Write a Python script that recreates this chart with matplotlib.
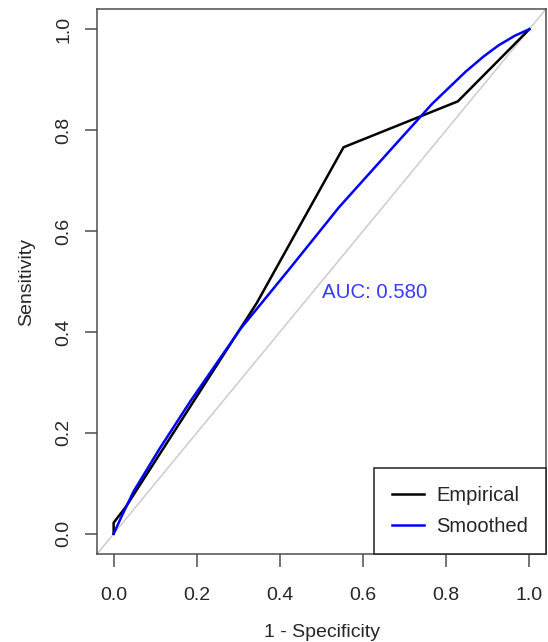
import matplotlib
matplotlib.use("Agg")
import matplotlib.pyplot as plt

# empirical ROC points (1 - specificity, sensitivity)
emp_fpr = [0.0, 0.0, 0.029, 0.344, 0.553, 0.828, 1.0]
emp_tpr = [0.0, 0.022, 0.053, 0.457, 0.766, 0.857, 1.0]

# smoothed ROC curve
smooth_fpr = [0.0, 0.02, 0.048, 0.11, 0.184, 0.304, 0.423, 0.543, 0.687, 0.766,
              0.847, 0.89, 0.926, 0.965, 1.0]
smooth_tpr = [0.0, 0.036, 0.084, 0.168, 0.262, 0.405, 0.525, 0.648, 0.780, 0.852,
              0.916, 0.946, 0.968, 0.987, 1.0]

auc_label = "AUC: 0.580"
ticks = [0.0, 0.2, 0.4, 0.6, 0.8, 1.0]

plt.rcParams["font.family"] = ["Liberation Sans", "DejaVu Sans"]
text_col = "#262626"
axis_col = "#4d4d4d"

fig = plt.figure(figsize=(5.48, 6.42), dpi=100)
ax = fig.add_axes([97 / 548, (642 - 554) / 642, 449 / 548, 545 / 642])

ax.axline((0, 0), (1, 1), color="#cccccc", lw=1.1, zorder=1)
ax.plot(emp_fpr, emp_tpr, color="black", lw=1.8, label="Empirical", zorder=2)
ax.plot(smooth_fpr, smooth_tpr, color="blue", lw=1.8, label="Smoothed", zorder=3)

ax.text(0.5, 0.479, auc_label, color="#3a3aff", fontsize=14.7, ha="left", va="center")

ax.set_xlim(-0.04, 1.04)
ax.set_ylim(-0.04, 1.04)
ax.set_xticks(ticks)
ax.set_yticks(ticks)
ax.set_xticklabels([f"{t:.1f}" for t in ticks])
ax.set_yticklabels([f"{t:.1f}" for t in ticks], rotation=90, va="center")
ax.tick_params(direction="out", length=9, width=1.1, color=axis_col,
               labelsize=14, labelcolor=text_col)
ax.tick_params(axis="x", pad=15)
ax.tick_params(axis="y", pad=9)
for s in ax.spines.values():
    s.set_color(axis_col)
    s.set_linewidth(1.1)

ax.set_xlabel("1 - Specificity", fontsize=14, color=text_col, labelpad=14)
ax.set_ylabel("Sensitivity", fontsize=14, color=text_col, labelpad=14)

leg = ax.legend(loc="lower right", bbox_to_anchor=(1, 0), borderaxespad=0,
                fontsize=14.5, handlelength=1.6, handletextpad=0.6,
                borderpad=0.9, labelspacing=0.6, fancybox=False,
                framealpha=1, edgecolor="#222222")
leg.get_frame().set_linewidth(1.1)
for t in leg.get_texts():
    t.set_color(text_col)

fig.savefig("out.png", dpi=100)
